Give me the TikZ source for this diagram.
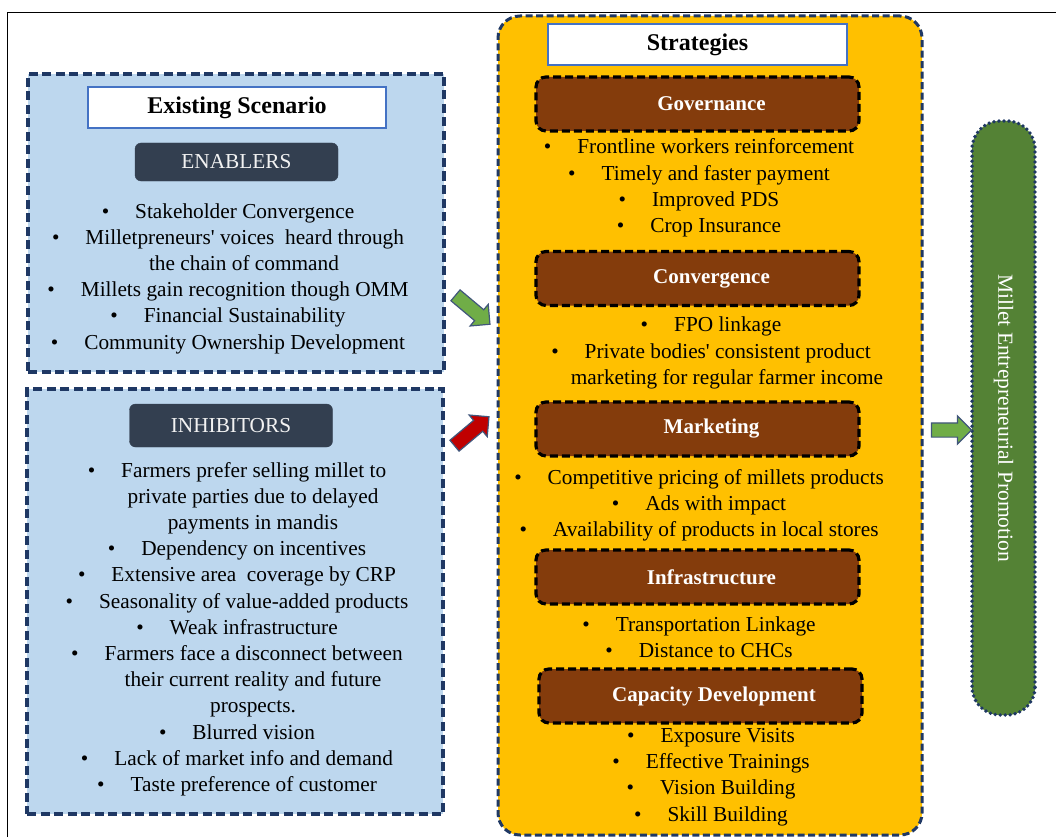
\documentclass[tikz,border=0pt]{standalone}
\usepackage{fontspec}
\setmainfont{Liberation Serif}
\usetikzlibrary{shapes.arrows, positioning}

\definecolor{navyline}{HTML}{1F3864}
\definecolor{paleblue}{HTML}{BDD7EE}
\definecolor{amber}{HTML}{FFC000}
\definecolor{rust}{HTML}{843C0C}
\definecolor{slate}{HTML}{333F50}
\definecolor{leaf}{HTML}{548235}
\definecolor{lightleaf}{HTML}{70AD47}
\definecolor{crimson}{HTML}{C00000}
\definecolor{titleblue}{HTML}{4472C4}

\newcommand{\itm}{\textbullet\hspace{26pt}}
\newcommand{\wrapind}{\hspace*{32pt}}
\newcommand{\bodysize}{\fontsize{21.3}{26.2}\selectfont}

\begin{document}
\begin{tikzpicture}[x=1pt,y=-1pt,
    scenbox/.style={draw=navyline, fill=paleblue, line width=3.2pt, dash pattern=on 9pt off 4.5pt, minimum width=416pt},
    stratbox/.style={draw=navyline, fill=amber, line width=3pt, dash pattern=on 7pt off 3.5pt, rounded corners=22pt},
    titlebox/.style={draw=titleblue, fill=white, line width=1.2pt, minimum width=298pt, minimum height=41pt, font=\fontsize{24}{28}\selectfont\bfseries},
    tagbox/.style={draw=slate, fill=slate, rounded corners=6pt, text=white!95!black, minimum width=203pt, font=\fontsize{21.3}{26}\selectfont},
    headbox/.style={draw=black, fill=rust, line width=3.2pt, dash pattern=on 8pt off 4pt, rounded corners=10pt, minimum width=323pt, minimum height=54pt, text=white, font=\fontsize{21}{26}\selectfont\bfseries},
    goalbox/.style={draw=navyline, fill=leaf, line width=3.8pt, dash pattern=on 0pt off 5pt, line cap=round, rounded corners=28pt, text=white, font=\fontsize{21.5}{26}\selectfont},
    items/.style={align=center, inner sep=0pt, font=\bodysize},
    blockarrow/.style={single arrow, draw=navyline!85, line width=1.2pt, inner sep=6.5pt, single arrow head extend=7pt, minimum height=45pt}]
    \useasboundingbox (0,0) rectangle (1056,837);
    \draw[line width=1.4pt] (7.5,837) -- (7.5,12.5) -- (1056,12.5);

    \node[scenbox, minimum height=298pt] (enab) at (236,223) {};
    \node[scenbox, minimum height=425pt] (inhib) at (235,601.5) {};
    \node[stratbox, minimum width=424pt, minimum height=819pt] (strat) at (710,425.5) {};
    \node[goalbox, rotate=-90, minimum width=594pt, minimum height=63pt] (goal) at (1003.5,418) {Millet Entrepreneurial Promotion};

    \node[titlebox] (scentitle) at (237,107.5) {Existing Scenario};
    \node[tagbox, minimum height=38pt] (enabtag) at (236.5,162) {ENABLERS};
    \node[items] (enabitems) at (228,278.5) {\itm Stakeholder Convergence\\
        \itm Milletpreneurs\textquotesingle{} voices~ heard through\\
        \wrapind the chain of command\\
        \itm Millets gain recognition though OMM\\
        \itm Financial Sustainability\\
        \itm Community Ownership Development};

    \node[tagbox, minimum height=43pt] (inhibtag) at (231,425.5) {INHIBITORS};
    \node[items] (inhibitems) at (237,629) {\itm Farmers prefer selling millet to\\
        \wrapind private parties due to delayed\\
        \wrapind payments in mandis\\
        \itm Dependency on incentives\\
        \itm Extensive area~ coverage by CRP\\
        \itm Seasonality of value-added products\\
        \itm Weak infrastructure\\
        \itm Farmers face a disconnect between\\
        \wrapind their current reality and future\\
        \wrapind prospects.\\
        \itm Blurred vision\\
        \itm Lack of market info and demand\\
        \itm Taste preference of customer};

    \node[titlebox, minimum width=299pt] (strattitle) at (697.5,44.5) {Strategies};

    \node[headbox] (gov) at (697.5,104) {\hspace*{28pt}Governance};
    \node[items] (govitems) at (699,188) {\itm Frontline workers reinforcement\\
        \itm Timely and faster payment\\
        \itm Improved PDS\\
        \itm Crop Insurance};

    \node[headbox] (conv) at (697.5,278.5) {\hspace*{28pt}Convergence};
    \node[items] (convitems) at (711,353) {\itm FPO linkage\\
        \itm Private bodies\textquotesingle{} consistent product\\
        \wrapind marketing for regular farmer income};

    \node[headbox] (mark) at (697.5,429) {\hspace*{28pt}Marketing};
    \node[items] (markitems) at (699,505) {\itm Competitive pricing of millets products\\
        \itm Ads with impact\\
        \itm Availability of products in local stores};

    \node[headbox] (infra) at (697.5,577) {\hspace*{28pt}Infrastructure};
    \node[items] (infraitems) at (699,637) {\itm Transportation Linkage\\
        \itm Distance to CHCs};

    \node[headbox] (capdev) at (700.5,696) {\hspace*{27pt}Capacity Development};
    \node[items] (capitems) at (711,777) {\itm Exposure Visits\\
        \itm Effective Trainings\\
        \itm Vision Building\\
        \itm Skill Building};

    \node[blockarrow, fill=lightleaf, rotate=-40] (enabarrow) at (470,307.5) {};
    \node[blockarrow, fill=crimson, rotate=40] (inhibarrow) at (469,433.5) {};
    \node[blockarrow, fill=lightleaf, minimum height=40pt] (goalarrow) at (948,430) {};
\end{tikzpicture}
\end{document}
